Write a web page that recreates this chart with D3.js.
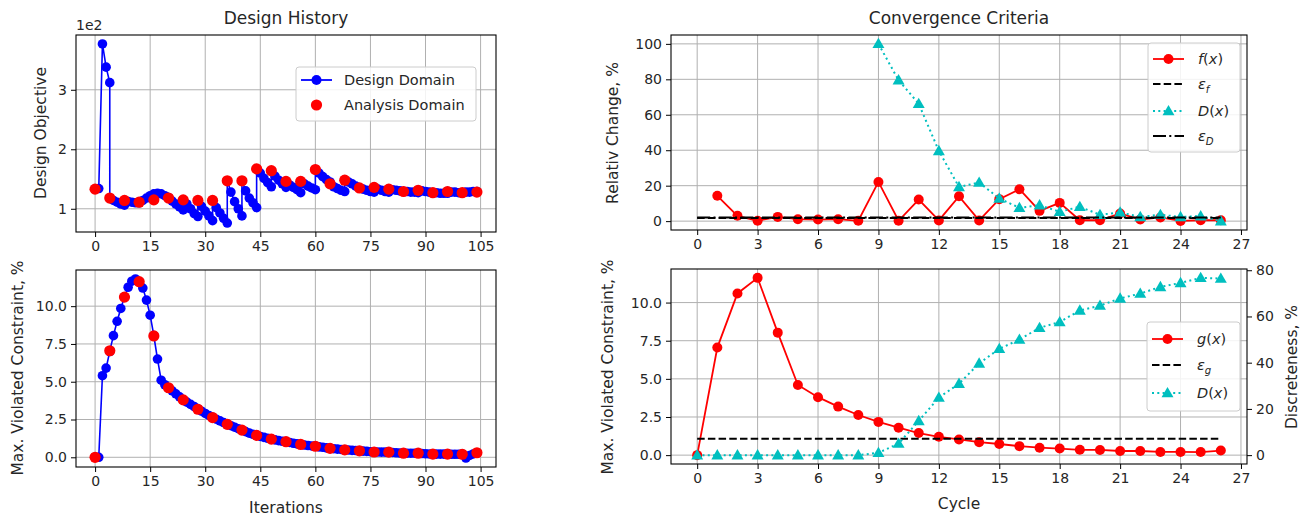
<!DOCTYPE html>
<html>
<head>
<meta charset="utf-8">
<script src="https://cdn.jsdelivr.net/npm/d3@7"></script>
<style>
  body { margin: 0; background: #fff; }
  svg text { font-family: "DejaVu Sans", sans-serif; fill: #262626; }
</style>
</head>
<body>
<div id="chart"></div>
<script>
// Design history + convergence criteria (4 panels, matplotlib look)

// ---- data ----
// analysis domain objective (x1e2), one value per cycle, at iteration 4*k
const analysisObjective = [1.33, 1.18, 1.14, 1.11, 1.15, 1.18, 1.15, 1.14, 1.14, 1.47, 1.47, 1.67, 1.64,
  1.46, 1.46, 1.66, 1.42, 1.48, 1.35, 1.36, 1.33, 1.29, 1.31, 1.27, 1.29, 1.27, 1.28];
// design domain objective (x1e2), iterations 4k+1 .. 4k+4 of each cycle
const designObjective = [
  [1.34, 3.77, 3.38, 3.12], [1.14, 1.11, 1.08, 1.06], [1.12, 1.11, 1.10, 1.10], [1.14, 1.18, 1.22, 1.25],
  [1.26, 1.25, 1.22, 1.19], [1.13, 1.08, 1.03, 0.98], [1.08, 1.00, 0.92, 0.87], [1.04, 0.96, 0.88, 0.80],
  [1.02, 0.93, 0.84, 0.76], [1.28, 1.12, 1.00, 0.88], [1.30, 1.18, 1.10, 1.02], [1.60, 1.51, 1.44, 1.37],
  [1.55, 1.48, 1.42, 1.36], [1.40, 1.36, 1.32, 1.27], [1.42, 1.38, 1.35, 1.32], [1.60, 1.54, 1.49, 1.45],
  [1.37, 1.34, 1.31, 1.29], [1.45, 1.42, 1.38, 1.35], [1.33, 1.31, 1.29, 1.28], [1.33, 1.31, 1.29, 1.28],
  [1.32, 1.31, 1.30, 1.29], [1.29, 1.28, 1.28, 1.27], [1.30, 1.29, 1.28, 1.27], [1.27, 1.26, 1.26, 1.26],
  [1.28, 1.28, 1.27, 1.27], [1.28, 1.28, 1.29, 1.29]
];
// max violated constraint (%) per cycle = analysis domain points = g(x)
const constraintByCycle = [0, 7.05, 10.6, 11.62, 8.03, 4.6, 3.8, 3.18, 2.63, 2.18, 1.8, 1.45, 1.2, 1.03,
  0.85, 0.73, 0.59, 0.49, 0.43, 0.35, 0.34, 0.27, 0.27, 0.21, 0.21, 0.2, 0.3];
// design domain constraint (%), iterations 4k+1 .. 4k+4
const designConstraint = [
  [0.0, 5.4, 5.9, 7.0], [8.05, 9.0, 9.85, 10.6], [11.25, 11.65, 11.8, 11.6], [11.2, 10.4, 9.4, 8.05],
  [6.5, 5.1, 4.8, 4.6], [4.4, 4.2, 4.0, 3.8], [3.65, 3.5, 3.35, 3.2], [3.05, 2.9, 2.77, 2.64],
  [2.52, 2.41, 2.3, 2.19], [2.09, 1.99, 1.89, 1.8], [1.7, 1.6, 1.52, 1.45], [1.38, 1.32, 1.26, 1.2],
  [1.15, 1.1, 1.06, 1.03], [0.98, 0.93, 0.89, 0.85], [0.81, 0.78, 0.75, 0.73], [0.69, 0.66, 0.62, 0.59],
  [0.57, 0.54, 0.52, 0.49], [0.48, 0.46, 0.45, 0.43], [0.41, 0.39, 0.37, 0.35], [0.35, 0.34, 0.34, 0.34],
  [0.32, 0.3, 0.28, 0.27], [0.27, 0.27, 0.27, 0.27], [0.25, 0.23, 0.22, 0.21], [0.21, 0.21, 0.21, 0.21],
  [0.2, 0.2, 0.2, 0.2], [-0.05, 0.12, 0.22, 0.3]
];

// convergence criteria
const cycles = d3.range(0, 27);
const relChangeF = [14.3, 3.0, 0.2, 2.4, 1.1, 0.9, 1.1, 0.2, 22.1, 0.2, 12.2, 0.4, 14.0, 0.4, 12.4, 18.0,
  5.8, 10.3, 0.5, 0.5, 4.3, 0.9, 2.1, 0.1, 0.5, 0.5];          // cycles 1..26
const relChangeD = [100, 79.5, 66.2, 39.6, 19.3, 21.8, 12.8, 7.5, 9.0, 5.3, 8.1, 3.6, 4.9, 2.4, 3.6,
  2.4, 2.8, 0.0];                                               // cycles 9..26
const discreteness = [0, 0, 0, 0, 0, 0, 0, 0, 0, 1.0, 5.0, 14.8, 24.9, 30.9, 39.7, 46.0, 50.0, 55.1,
  57.6, 62.6, 64.7, 67.8, 69.9, 72.8, 74.5, 76.7, 76.4];        // cycles 0..26
const epsF = 1.8, epsD = 2.0, epsG = 1.07;

const iterTicks = [0, 15, 30, 45, 60, 75, 90, 105];
const cycleTicks = [0, 3, 6, 9, 12, 15, 18, 21, 24, 27];

// ---- drawing ----
const W = 1311, H = 519;
const BLUE = "#0000ff", RED = "#ff0000", CYAN = "#00bfbf";
const TICK_FS = 14, LABEL_FS = 15.5, TITLE_FS = 17, LEG_FS = 14.5;

const svg = d3.select("#chart").append("svg").attr("width", W).attr("height", H);
svg.append("rect").attr("width", W).attr("height", H).attr("fill", "#fff");

const pad = ([a, b]) => { const m = (b - a) * 0.05; return [a - m, b + m]; };

function styleAxis(sel) {
  sel.select(".domain").remove();
  sel.selectAll(".tick line").attr("stroke", "#000").attr("stroke-width", 1);
  sel.selectAll(".tick text").attr("font-size", TICK_FS).attr("font-family", "DejaVu Sans").attr("fill", "#262626");
}

function makePanel(p) {
  const x = d3.scaleLinear().domain(p.xDomain).range([p.left, p.right]);
  const y = d3.scaleLinear().domain(p.yDomain).range([p.bottom, p.top]);
  const g = svg.append("g");
  const grid = g.append("g");
  grid.selectAll("line.gx").data(p.xTicks.filter(t => x(t) >= p.left && x(t) <= p.right)).join("line")
    .attr("x1", d => x(d)).attr("x2", d => x(d)).attr("y1", p.top).attr("y2", p.bottom)
    .attr("stroke", "#b0b0b0").attr("stroke-width", 1);
  grid.selectAll("line.gy").data(p.yTicks).join("line")
    .attr("x1", p.left).attr("x2", p.right).attr("y1", d => y(d)).attr("y2", d => y(d))
    .attr("stroke", "#b0b0b0").attr("stroke-width", 1);

  g.append("g").attr("transform", `translate(0,${p.bottom})`)
    .call(d3.axisBottom(x).tickValues(p.xTicks).tickSize(5).tickPadding(4).tickFormat(d3.format("d")))
    .call(styleAxis);
  g.append("g").attr("transform", `translate(${p.left},0)`)
    .call(d3.axisLeft(y).tickValues(p.yTicks).tickSize(5).tickPadding(4).tickFormat(p.yFormat))
    .call(styleAxis);

  const data = g.append("g");
  const frame = g.append("g");
  frame.append("rect")
    .attr("x", p.left).attr("y", p.top).attr("width", p.right - p.left).attr("height", p.bottom - p.top)
    .attr("fill", "none").attr("stroke", "#000").attr("stroke-width", 1.1);
  return { x, y, g, data, frame, p };
}

function yLabel(text, cx, cy) {
  svg.append("text").attr("transform", `translate(${cx + LABEL_FS * 0.36},${cy}) rotate(-90)`)
    .attr("text-anchor", "middle").attr("font-size", LABEL_FS).text(text);
}

function drawLine(layer, pts, x, y, color, width, dash) {
  layer.append("path").datum(pts)
    .attr("d", d3.line().x(d => x(d[0])).y(d => y(d[1])))
    .attr("fill", "none").attr("stroke", color).attr("stroke-width", width)
    .attr("stroke-dasharray", dash || null);
}
function drawDots(layer, pts, x, y, color, r) {
  layer.append("g").selectAll("circle").data(pts).join("circle")
    .attr("cx", d => x(d[0])).attr("cy", d => y(d[1])).attr("r", r).attr("fill", color);
}
const tri = d3.symbol().type(d3.symbolTriangle).size(62);
function drawTris(layer, pts, x, y, color) {
  layer.append("g").selectAll("path").data(pts).join("path")
    .attr("transform", d => `translate(${x(d[0])},${y(d[1]) + 0.8})`)
    .attr("d", tri).attr("fill", color);
}

// math-ish label: parts = [[text, italic, sub]]
function mathText(sel, parts) {
  parts.forEach(([t, it, sub]) => {
    const ts = sel.append("tspan").text(t);
    if (it) ts.attr("font-style", "italic");
    if (sub) ts.attr("font-size", LEG_FS * 0.7).attr("dy", 4);
  });
}

function legend(x0, y0, w, h, items) {
  const lg = svg.append("g");
  lg.append("rect").attr("x", x0).attr("y", y0).attr("width", w).attr("height", h).attr("rx", 3)
    .attr("fill", "#fff").attr("fill-opacity", 0.85).attr("stroke", "#cccccc").attr("stroke-width", 1);
  items.forEach(it => {
    const hx0 = x0 + 5, hx1 = x0 + 36, yy = it.y;
    if (it.dash !== undefined) {
      lg.append("line").attr("x1", hx0).attr("x2", hx1).attr("y1", yy).attr("y2", yy)
        .attr("stroke", it.color).attr("stroke-width", it.width || 1.8).attr("stroke-dasharray", it.dash || null);
    }
    if (it.marker === "o") lg.append("circle").attr("cx", (hx0 + hx1) / 2).attr("cy", yy).attr("r", it.r || 5).attr("fill", it.color);
    if (it.marker === "^") lg.append("path").attr("transform", `translate(${(hx0 + hx1) / 2},${yy + 0.8})`).attr("d", tri).attr("fill", it.color);
    const t = lg.append("text").attr("x", x0 + it.tx).attr("y", yy + 5).attr("font-size", LEG_FS);
    if (typeof it.label === "string") t.text(it.label); else mathText(t, it.label);
  });
}

// ---------- top-left: design history objective ----------
const designPts = [], analysisPts = [];
designObjective.forEach((cyc, k) => {
  designPts.push([4 * k, analysisObjective[k]]);
  cyc.forEach((v, i) => designPts.push([4 * k + i + 1, v]));
});
analysisObjective.forEach((v, k) => analysisPts.push([4 * k, v]));

const tl = makePanel({
  left: 76, right: 496, top: 35, bottom: 232,
  xDomain: pad([0, 104]), yDomain: pad(d3.extent(designPts.concat(analysisPts), d => d[1])),
  xTicks: iterTicks, yTicks: [1, 2, 3], yFormat: d3.format("d")
});
drawLine(tl.data, designPts, tl.x, tl.y, BLUE, 1.6);
drawDots(tl.data, designPts, tl.x, tl.y, BLUE, 4.8);
drawDots(tl.data, analysisPts, tl.x, tl.y, RED, 5.6);
svg.append("text").attr("x", 76).attr("y", 30).attr("font-size", TICK_FS).text("1e2");
svg.append("text").attr("x", 286).attr("y", 24).attr("text-anchor", "middle").attr("font-size", TITLE_FS).text("Design History");
yLabel("Design Objective", 40, 133);
legend(296, 67, 180, 54, [
  { y: 80, color: BLUE, dash: "", marker: "o", r: 5, tx: 48, label: "Design Domain" },
  { y: 105, color: RED, marker: "o", r: 5.6, tx: 48, label: "Analysis Domain" }
]);

// ---------- bottom-left: design history constraint ----------
const dConPts = [], aConPts = [];
designConstraint.forEach((cyc, k) => {
  dConPts.push([4 * k, constraintByCycle[k]]);
  cyc.forEach((v, i) => dConPts.push([4 * k + i + 1, v]));
});
constraintByCycle.forEach((v, k) => aConPts.push([4 * k, v]));

const bl = makePanel({
  left: 76, right: 496, top: 270, bottom: 467,
  xDomain: pad([0, 104]), yDomain: pad(d3.extent(dConPts.concat(aConPts), d => d[1])),
  xTicks: iterTicks, yTicks: [0, 2.5, 5, 7.5, 10], yFormat: d3.format(".1f")
});
drawLine(bl.data, dConPts, bl.x, bl.y, BLUE, 1.6);
drawDots(bl.data, dConPts, bl.x, bl.y, BLUE, 4.8);
drawDots(bl.data, aConPts, bl.x, bl.y, RED, 5.6);
yLabel("Max. Violated Constraint, %", 17, 368);
svg.append("text").attr("x", 286).attr("y", 513).attr("text-anchor", "middle").attr("font-size", LABEL_FS).text("Iterations");

// ---------- top-right: relative change ----------
const fPts = relChangeF.map((v, i) => [i + 1, v]);
const dPts = relChangeD.map((v, i) => [i + 9, v]);
const tr = makePanel({
  left: 671, right: 1247, top: 35, bottom: 230,
  xDomain: pad([0, 26]), yDomain: pad([0, 100]),
  xTicks: cycleTicks, yTicks: [0, 20, 40, 60, 80, 100], yFormat: d3.format("d")
});
drawLine(tr.data, fPts, tr.x, tr.y, RED, 1.8);
drawDots(tr.data, fPts, tr.x, tr.y, RED, 5);
drawLine(tr.data, [[0, epsF], [26, epsF]], tr.x, tr.y, "#000", 2, "7.5,3.2");
drawLine(tr.data, dPts, tr.x, tr.y, CYAN, 2, "2,3.3");
drawTris(tr.data, dPts, tr.x, tr.y, CYAN);
drawLine(tr.data, [[0, epsD], [26, epsD]], tr.x, tr.y, "#000", 2, "13,3.3,2,3.3");
svg.append("text").attr("x", 959).attr("y", 24).attr("text-anchor", "middle").attr("font-size", TITLE_FS).text("Convergence Criteria");
yLabel("Relativ Change, %", 612, 133);
legend(1148, 43, 92, 109, [
  { y: 59, color: RED, dash: "", width: 1.8, marker: "o", tx: 50, label: [["f", true], ["("], ["x", true], [")"]] },
  { y: 84, color: "#000", dash: "7.5,3.2", width: 2, tx: 50, label: [["ε", true], ["f", true, true]] },
  { y: 111, color: CYAN, dash: "2,3.3", width: 2, marker: "^", tx: 50, label: [["D", true], ["("], ["x", true], [")"]] },
  { y: 136, color: "#000", dash: "13,3.3,2,3.3", width: 2, tx: 50, label: [["ε", true], ["D", true, true]] }
]);

// ---------- bottom-right: constraint + discreteness (twin axis) ----------
const gPts = constraintByCycle.map((v, i) => [cycles[i], v]);
const discPts = discreteness.map((v, i) => [cycles[i], v]);
const br = makePanel({
  left: 671, right: 1247, top: 269, bottom: 464,
  xDomain: pad([0, 26]), yDomain: pad(d3.extent(constraintByCycle)),
  xTicks: cycleTicks, yTicks: [0, 2.5, 5, 7.5, 10], yFormat: d3.format(".1f")
});
const y2 = d3.scaleLinear().domain(pad(d3.extent(discreteness))).range([464, 269]);
br.g.append("g").attr("transform", "translate(1247,0)")
  .call(d3.axisRight(y2).tickValues([0, 20, 40, 60, 80]).tickSize(5).tickPadding(4).tickFormat(d3.format("d")))
  .call(styleAxis);
drawLine(br.data, gPts, br.x, br.y, RED, 1.8);
drawDots(br.data, gPts, br.x, br.y, RED, 5);
drawLine(br.data, [[0, epsG], [26, epsG]], br.x, br.y, "#000", 2, "7.5,3.2");
drawLine(br.data, discPts, br.x, y2, CYAN, 2, "2,3.3");
drawTris(br.data, discPts, br.x, y2, CYAN);
yLabel("Max. Violated Constraint, %", 607, 367);
yLabel("Discreteness, %", 1291, 367);
svg.append("text").attr("x", 959).attr("y", 509).attr("text-anchor", "middle").attr("font-size", LABEL_FS).text("Cycle");
legend(1147, 322, 93, 89, [
  { y: 339, color: RED, dash: "", width: 1.8, marker: "o", tx: 50, label: [["g", true], ["("], ["x", true], [")"]] },
  { y: 365, color: "#000", dash: "7.5,3.2", width: 2, tx: 50, label: [["ε", true], ["g", true, true]] },
  { y: 393, color: CYAN, dash: "2,3.3", width: 2, marker: "^", tx: 50, label: [["D", true], ["("], ["x", true], [")"]] }
]);
</script>
</body>
</html>
